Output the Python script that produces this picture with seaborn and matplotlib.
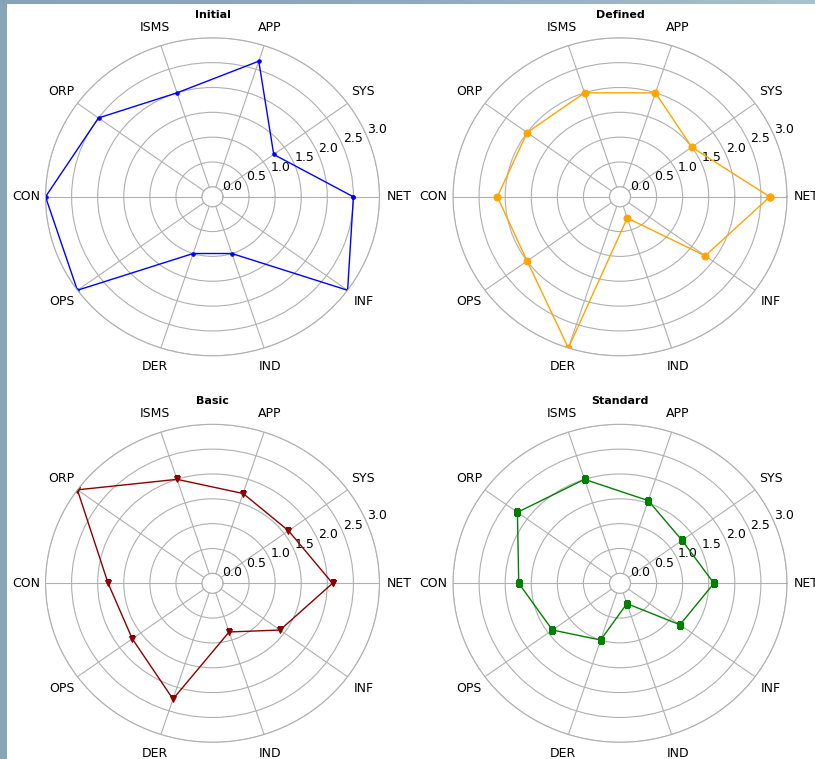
import numpy as np
import matplotlib
matplotlib.use("Agg")
import matplotlib.pyplot as plt
import seaborn as sns

# ======================
# Datos
# ======================
categorias = ["NET", "SYS", "APP", "ISMS", "ORP", "CON", "OPS", "DER", "IND", "INF"]

initial = [2.5, 1.25, 2.67, 2.0, 2.5, 3.0, 3.0, 1.0, 1.0, 3.0]
defined = [2.67, 1.5, 2.0, 2.0, 2.0, 2.15, 2.0, 3.0, 0.25, 1.82]
basic = [2.1, 1.6, 1.7, 2.0, 3.0, 1.8, 1.7, 2.25, 0.83, 1.4]
standard = [1.6, 1.27, 1.55, 2.0, 2.23, 1.74, 1.4, 1.0, 0.23, 1.22]

niveles = ["Initial", "Defined", "Basic", "Standard"]
series = [initial, defined, basic, standard]
colores = ["blue", "orange", "darkred", "green"]
marcadores = [".", "o", "v", "s"]
tam_marcador = [5, 5, 5, 4.5]

r_ticks = [0.0, 0.5, 1.0, 1.5, 2.0, 2.5, 3.0]

# ======================
# Estilo
# ======================
sns.set_theme(style="whitegrid", rc={
    "grid.color": "#b0b0b0",
    "grid.linewidth": 0.8,
    "axes.edgecolor": "#b0b0b0",
    "xtick.labelsize": 9,
    "ytick.labelsize": 9,
    "text.color": "black",
    "xtick.color": "black",
    "ytick.color": "black",
})
plt.rcParams["font.family"] = ["DejaVu Sans"]

fig = plt.figure(figsize=(8.15, 7.59), dpi=100)
fig.patch.set_facecolor("white")

# franjas de fondo (borde de captura)
ax_izq = fig.add_axes([0, 0, 6.5 / 815, 1])
ax_izq.axis("off")
ax_izq.add_patch(plt.Rectangle((0, 0), 1, 1, color="#88a5b8", transform=ax_izq.transAxes))
ax_sup = fig.add_axes([0, 1 - 4.5 / 759, 1, 4.5 / 759])
grad = np.linspace(0, 1, 256).reshape(1, -1)
ax_sup.imshow(grad, aspect="auto", cmap=matplotlib.colors.LinearSegmentedColormap.from_list(
    "borde", ["#86a4b7", "#8eabbd", "#a9c0cf"]), extent=[0, 1, 0, 1])
ax_sup.axis("off")

angulos = np.linspace(0, 2 * np.pi, len(categorias), endpoint=False)
ang_cerrado = np.concatenate([angulos, [2 * np.pi]])

# ejes elípticos (la captura original está estirada en horizontal)
W = 334 / 815
H = 318 / 759
posiciones = [
    [45.5 / 815, (759 - 196.8 - 159) / 759],
    [453 / 815, (759 - 196.8 - 159) / 759],
    [45.5 / 815, (759 - 583.3 - 159) / 759],
    [453 / 815, (759 - 583.3 - 159) / 759],
]

for nombre, vals, col, mk, ms, pos in zip(niveles, series, colores, marcadores, tam_marcador, posiciones):
    ax = fig.add_axes([pos[0], pos[1], W, H], projection="polar")
    ax.set_aspect("auto")
    vals_cerrado = list(vals) + [vals[0]]
    sns.lineplot(x=ang_cerrado, y=vals_cerrado, ax=ax, sort=False, color=col,
                 marker=mk, markersize=ms, markeredgecolor=col, linewidth=1)
    ax.set_rorigin(-0.2)
    ax.set_ylim(0, 3.0)
    ax.set_yticks(r_ticks)
    ax.set_yticklabels([f"{t:.1f}" for t in r_ticks])
    ax.set_xticks(angulos)
    ax.set_xticklabels(categorias)
    ax.set_xlabel("")
    ax.set_ylabel("")
    ax.tick_params(axis="x", pad=1)
    ax.spines["polar"].set_color("#b0b0b0")
    ax.spines["polar"].set_linewidth(0.8)
    ax.spines["inner"].set_color("#b0b0b0")
    ax.spines["inner"].set_linewidth(0.8)
    ax.set_facecolor("white")
    ax.text(0.5, 1 + 23 / 318, nombre, transform=ax.transAxes, ha="center", va="center",
            fontsize=8, fontweight="bold")

plt.savefig("out.png", dpi=100)
